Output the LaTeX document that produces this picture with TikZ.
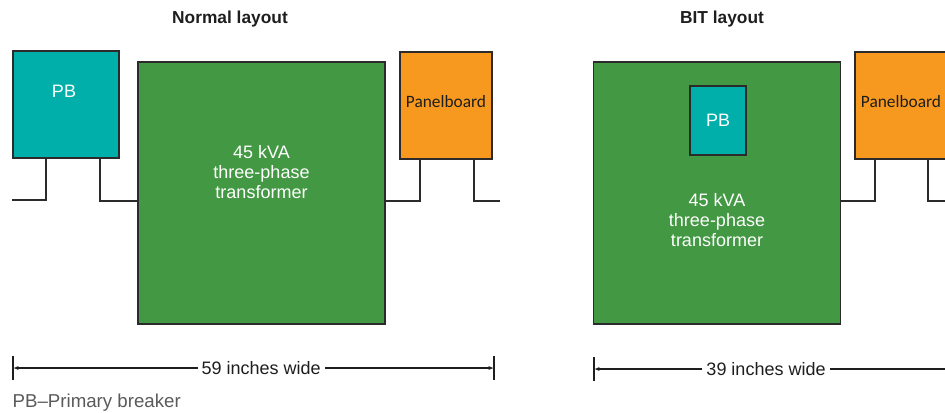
\documentclass[tikz,border=0pt]{standalone}
\usepackage{fontspec}
\setmainfont{Liberation Sans}
\newfontfamily\pbfont{Carlito}
\usepackage{tikz}
\usetikzlibrary{arrows.meta,positioning}
\definecolor{Edge}{HTML}{2B2B2B}
\definecolor{Teal}{HTML}{00AFAA}
\definecolor{Leaf}{HTML}{439843}
\definecolor{Amber}{HTML}{F7991F}
\definecolor{Ink}{HTML}{1E1E1E}
\definecolor{Muted}{HTML}{5A5A5A}
\tikzset{
  pbbox/.style={draw=Edge,fill=Teal,line width=1pt,inner sep=0pt},
  xfbox/.style={draw=Edge,fill=Leaf,line width=.8pt,inner sep=0pt,minimum width=185.25pt,minimum height=196.5pt},
  panelbox/.style={draw=Edge,fill=Amber,line width=1pt,inner sep=0pt,minimum width=69pt,minimum height=80.25pt,
    text depth=6pt,font=\pbfont\fontsize{13}{15}\selectfont,text=Ink},
  boxtext/.style={text=white,align=center,font=\fontsize{13.5}{15}\selectfont},
  wire/.style={draw=Edge,line width=1pt},
  dimline/.style={{Latex[length=4pt,width=3pt]}-{Latex[length=4pt,width=3pt]},draw=Ink,line width=.8pt},
  dimtick/.style={draw=Ink,line width=.8pt},
  dimtext/.style={fill=white,inner xsep=3pt,text=Ink,font=\fontsize{13.5}{15}\selectfont},
  title/.style={font=\bfseries\fontsize{13}{15}\selectfont,text=Ink}
}

\begin{document}
\begin{tikzpicture}[x=.75pt,y=-.75pt]
  \clip (0,0) rectangle (945,412);
  % normal layout
  \node[title] (tA) at (230,19) {Normal layout};
  \node[pbbox,minimum width=79.5pt,minimum height=80.25pt] (pbA) at (66,104.5) {};
  \node[boxtext] (pbAt) at (64,91) {PB};
  \node[xfbox] (xfA) at (261.5,193) {};
  \node[boxtext] (xfAt) at (261.5,172) {45 kVA\\three-phase\\transformer};
  \node[panelbox] (pnA) at (446,105.5) {Panelboard};
  \coordinate (inA) at (12,200);
  \coordinate (outA) at (500,201);
  \draw[wire] ([xshift=-15pt]pbA.south) |- (inA);
  \draw[wire] ([xshift=25.5pt]pbA.south) |- ([yshift=-6pt]xfA.west);
  \draw[wire] ([xshift=-19.5pt]pnA.south) |- ([yshift=-6pt]xfA.east);
  \draw[wire] ([xshift=21pt]pnA.south) |- (outA);
  \coordinate (dAl) at (13,368);
  \coordinate (dAr) at (494,368);
  \draw[dimline] (dAl) -- (dAr) node[dimtext,pos=.516] (dAt) {59 inches wide};
  \draw[dimtick] ([yshift=9pt]dAl) -- ([yshift=-9pt]dAl);
  \draw[dimtick] ([yshift=9pt]dAr) -- ([yshift=-9pt]dAr);
  \node[anchor=west,text=Muted,font=\fontsize{14}{16}\selectfont] (key) at (8,403) {PB--Primary breaker};
  % BIT layout
  \node[title] (tB) at (722,19) {BIT layout};
  \node[xfbox] (xfB) at (717,193) {};
  \node[pbbox,minimum width=42pt,minimum height=51.75pt] (pbB) at (718,120.5) {};
  \node[boxtext] (pbBt) at (718,120) {PB};
  \node[boxtext] (xfBt) at (717,220) {45 kVA\\three-phase\\transformer};
  \node[panelbox] (pnB) at (901,105.5) {Panelboard};
  \coordinate (outB) at (960,201);
  \draw[wire] ([xshift=-19.5pt]pnB.south) |- ([yshift=-6pt]xfB.east);
  \draw[wire] ([xshift=20.25pt]pnB.south) |- (outB);
  \coordinate (dBl) at (594,369);
  \coordinate (dBr) at (960,369);
  \draw[dimline] (dBl) -- (dBr) node[dimtext,pos=.47] (dBt) {39 inches wide};
  \draw[dimtick] ([yshift=9pt]dBl) -- ([yshift=-9pt]dBl);
\end{tikzpicture}
\end{document}
